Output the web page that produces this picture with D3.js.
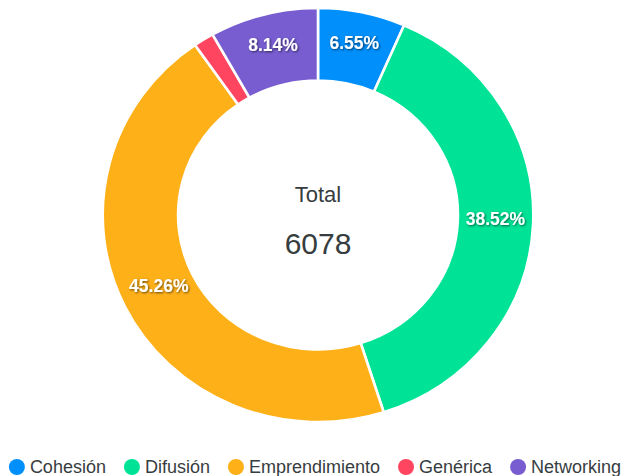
<!DOCTYPE html>
<meta charset="utf-8">
<style>
    body { margin: 0; background: #fff; }
    svg { display: block; font-family: "Liberation Sans", Arial, sans-serif; }
    .legend text { font-size: 18px; fill: #373d3f; }
    .pct { font-size: 17.5px; font-weight: bold; fill: #fff; }
</style>
<svg width="624" height="476"></svg>
<script src="https://cdn.jsdelivr.net/npm/d3@7"></script>
<script>
    // data
    var categories = ["Cohesión", "Difusión", "Emprendimiento", "Genérica", "Networking"];
    var counts = [398, 2341, 2751, 93, 495];
    var colors = ["#008FFB", "#00E396", "#FEB019", "#FF4560", "#775DD0"];
    var totalLabel = "Total";

    var svg = d3.select("svg"),
        cx = 318, cy = 215,
        outerR = 207, innerR = outerR * 0.65,
        stretch = 1.04;

    var total = d3.sum(counts);
    var data = categories.map(function(c, i) { return {name: c, value: counts[i], color: colors[i]}; });

    var defs = svg.append("defs");
    var f = defs.append("filter").attr("id", "shadow")
        .attr("x", "-20%").attr("y", "-20%").attr("width", "140%").attr("height", "140%");
    f.append("feDropShadow").attr("dx", 1).attr("dy", 1).attr("stdDeviation", 1)
        .attr("flood-color", "#000").attr("flood-opacity", 0.6);

    var pie = d3.pie().sort(null).value(function(d) { return d.value; });
    var arc = d3.arc().innerRadius(innerR).outerRadius(outerR);
    var arcs = pie(data);

    var g = svg.append("g")
        .attr("transform", "translate(" + cx + "," + cy + ") scale(" + stretch + ",1)");

    g.selectAll("path")
        .data(arcs)
        .enter().append("path")
        .attr("d", arc)
        .attr("fill", function(d) { return d.data.color; })
        .attr("stroke", "#fff")
        .attr("stroke-width", 2.5);

    // percentage labels (skip tiny slices)
    var labelArc = d3.arc().innerRadius((innerR + outerR) / 2).outerRadius((innerR + outerR) / 2);
    svg.append("g").selectAll("text")
        .data(arcs.filter(function(d) { return d.value / total > 0.03; }))
        .enter().append("text")
        .attr("class", "pct")
        .attr("filter", "url(#shadow)")
        .attr("text-anchor", "middle")
        .attr("dy", "0.06em")
        .attr("x", function(d) { return cx + labelArc.centroid(d)[0] * stretch; })
        .attr("y", function(d) { return cy + labelArc.centroid(d)[1]; })
        .text(function(d) { return (d.value / total * 100).toFixed(2) + "%"; });

    // center text
    svg.append("text")
        .attr("x", cx).attr("y", 202)
        .attr("text-anchor", "middle")
        .style("font-size", "22px").style("fill", "#373d3f")
        .text(totalLabel);
    svg.append("text")
        .attr("x", cx).attr("y", 254)
        .attr("text-anchor", "middle")
        .style("font-size", "30px").style("fill", "#373d3f")
        .text(total);

    // legend, laid out by measured text widths and centered
    var legend = svg.append("g").attr("class", "legend");
    var items = legend.selectAll("g")
        .data(data)
        .enter().append("g");
    items.append("circle")
        .attr("r", 8)
        .attr("cy", 467)
        .attr("fill", function(d) { return d.color; });
    items.append("text")
        .attr("y", 473)
        .text(function(d) { return d.name; });

    var gap = 18, xpos = 0, widths = [];
    items.each(function() {
        var w = d3.select(this).select("text").node().getComputedTextLength();
        widths.push(w);
    });
    var full = d3.sum(widths) + data.length * 21 + (data.length - 1) * gap;
    xpos = 315 - full / 2;
    items.each(function(d, i) {
        var it = d3.select(this);
        it.select("circle").attr("cx", xpos + 8);
        it.select("text").attr("x", xpos + 21);
        xpos += 21 + widths[i] + gap;
    });
</script>
